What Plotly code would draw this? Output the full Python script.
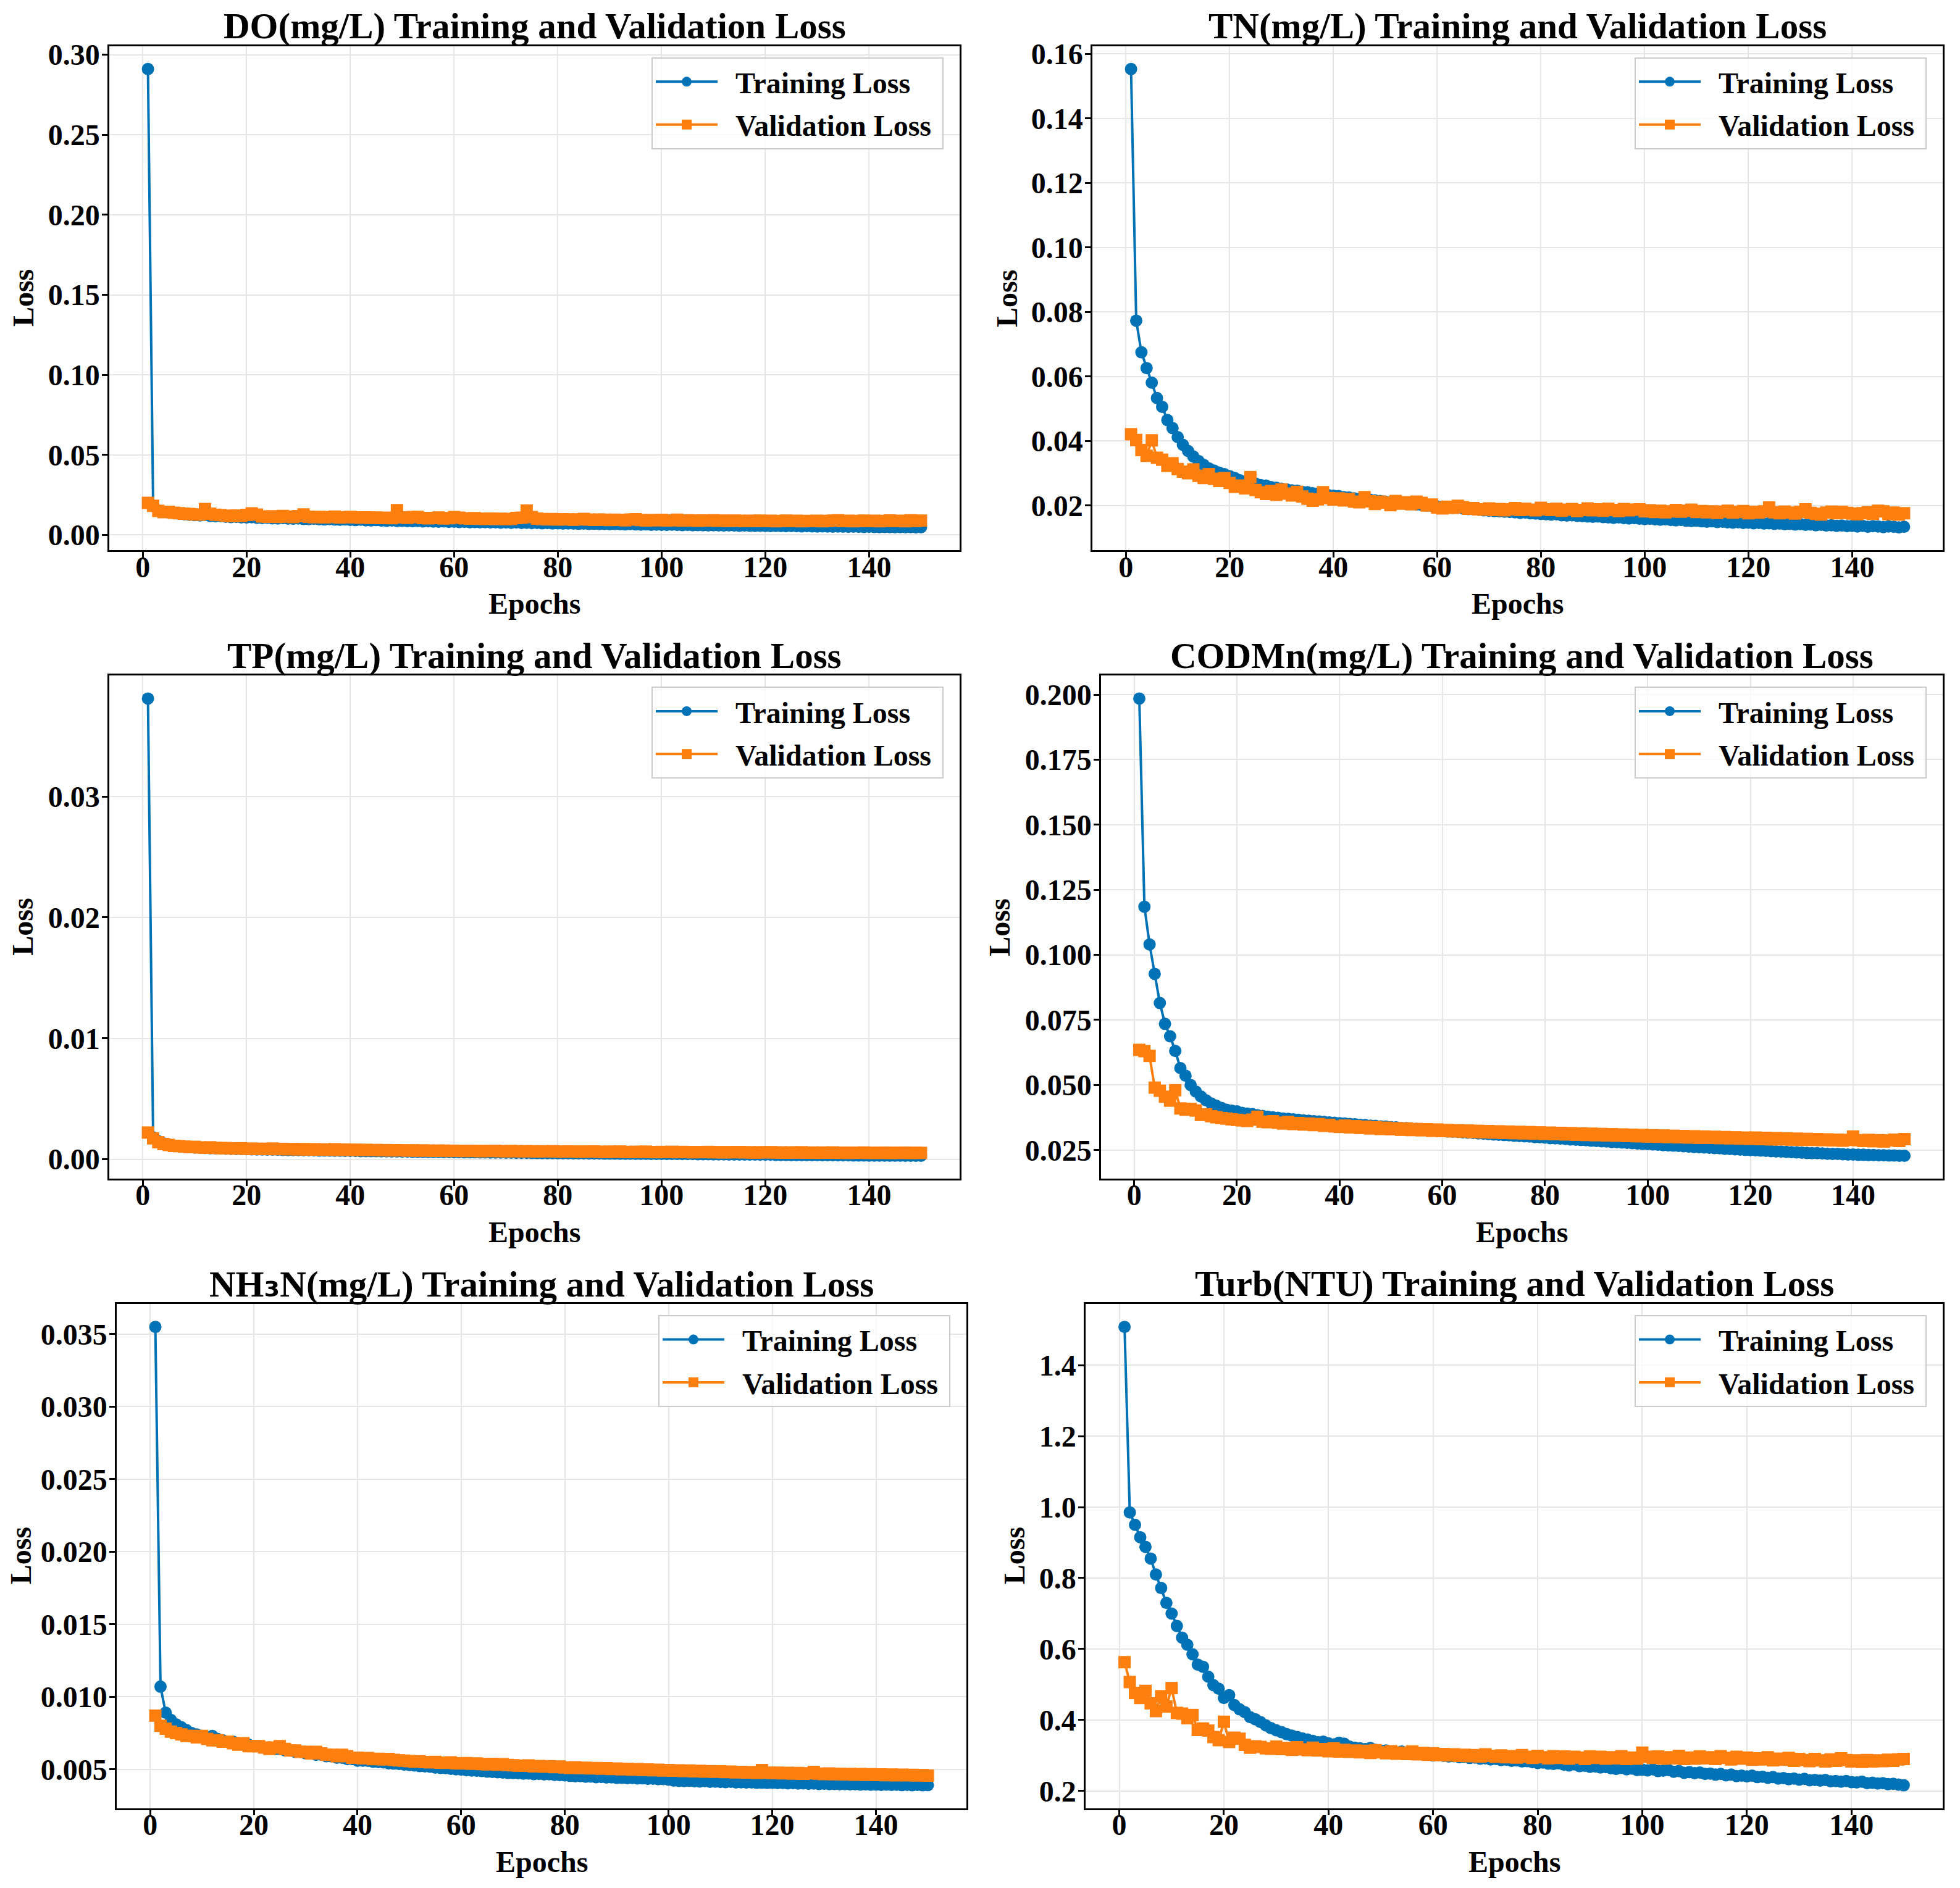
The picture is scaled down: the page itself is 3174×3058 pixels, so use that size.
import plotly.graph_objects as go

epochs = list(range(1, 151))

do_train = [
    0.2910, 0.0180, 0.0152, 0.0146, 0.0141, 0.0137, 0.0132, 0.0129, 0.0126, 0.0124,
    0.0122, 0.0125, 0.0119, 0.0117, 0.0118, 0.0114, 0.0112, 0.0113, 0.0110, 0.0109,
    0.0111, 0.0107, 0.0106, 0.0108, 0.0104, 0.0103, 0.0105, 0.0102, 0.0101, 0.0103,
    0.0100, 0.0099, 0.0101, 0.0098, 0.0097, 0.0099, 0.0096, 0.0095, 0.0097, 0.0094,
    0.0093, 0.0095, 0.0092, 0.0091, 0.0093, 0.0090, 0.0089, 0.0091, 0.0088, 0.0089,
    0.0087, 0.0086, 0.0088, 0.0085, 0.0086, 0.0084, 0.0083, 0.0085, 0.0082, 0.0083,
    0.0081, 0.0082, 0.0080, 0.0081, 0.0079, 0.0080, 0.0078, 0.0079, 0.0077, 0.0078,
    0.0076, 0.0078, 0.0075, 0.0076, 0.0074, 0.0075, 0.0073, 0.0074, 0.0072, 0.0073,
    0.0071, 0.0072, 0.0071, 0.0070, 0.0071, 0.0069, 0.0070, 0.0068, 0.0069, 0.0067,
    0.0068, 0.0067, 0.0066, 0.0068, 0.0066, 0.0065, 0.0066, 0.0064, 0.0065, 0.0064,
    0.0063, 0.0065, 0.0063, 0.0062, 0.0063, 0.0061, 0.0062, 0.0061, 0.0060, 0.0061,
    0.0060, 0.0059, 0.0060, 0.0059, 0.0058, 0.0059, 0.0058, 0.0057, 0.0058, 0.0057,
    0.0056, 0.0057, 0.0056, 0.0055, 0.0056, 0.0055, 0.0054, 0.0055, 0.0054, 0.0053,
    0.0054, 0.0053, 0.0052, 0.0053, 0.0052, 0.0051, 0.0052, 0.0051, 0.0050, 0.0051,
    0.0050, 0.0049, 0.0050, 0.0049, 0.0048, 0.0049, 0.0048, 0.0049, 0.0047, 0.0048,
]
do_val = [
    0.0200, 0.0182, 0.0150, 0.0143, 0.0145, 0.0139, 0.0136, 0.0133, 0.0131, 0.0128,
    0.0127, 0.0162, 0.0133, 0.0126, 0.0124, 0.0120, 0.0118, 0.0121, 0.0119, 0.0125,
    0.0135, 0.0127, 0.0116, 0.0114, 0.0117, 0.0113, 0.0119, 0.0115, 0.0112, 0.0118,
    0.0128, 0.0114, 0.0111, 0.0113, 0.0110, 0.0112, 0.0115, 0.0109, 0.0111, 0.0113,
    0.0110, 0.0108, 0.0110, 0.0107, 0.0109, 0.0106, 0.0108, 0.0105, 0.0155, 0.0110,
    0.0107, 0.0112, 0.0113, 0.0106, 0.0104, 0.0106, 0.0109, 0.0103, 0.0105, 0.0112,
    0.0108, 0.0104, 0.0102, 0.0105, 0.0101, 0.0100, 0.0102, 0.0099, 0.0101, 0.0098,
    0.0100, 0.0106, 0.0108, 0.0152, 0.0112, 0.0102, 0.0099, 0.0097, 0.0099, 0.0096,
    0.0098, 0.0097, 0.0095, 0.0097, 0.0100, 0.0096, 0.0094, 0.0096, 0.0095, 0.0093,
    0.0095, 0.0094, 0.0092, 0.0096, 0.0098, 0.0093, 0.0091, 0.0093, 0.0092, 0.0094,
    0.0091, 0.0092, 0.0095, 0.0090, 0.0092, 0.0091, 0.0089, 0.0091, 0.0090, 0.0092,
    0.0089, 0.0090, 0.0088, 0.0090, 0.0089, 0.0087, 0.0089, 0.0088, 0.0090, 0.0087,
    0.0089, 0.0086, 0.0088, 0.0090, 0.0087, 0.0089, 0.0086, 0.0088, 0.0087, 0.0089,
    0.0086, 0.0088, 0.0090, 0.0092, 0.0087, 0.0089, 0.0086, 0.0088, 0.0090, 0.0087,
    0.0089, 0.0086, 0.0088, 0.0091, 0.0087, 0.0089, 0.0086, 0.0092, 0.0088, 0.0090,
]

tn_train = [
    0.1553, 0.0773, 0.0675, 0.0626, 0.0581, 0.0533, 0.0506, 0.0465, 0.0440, 0.0412,
    0.0388, 0.0369, 0.0352, 0.0338, 0.0326, 0.0315, 0.0308, 0.0302, 0.0297, 0.0291,
    0.0285, 0.0278, 0.0274, 0.0272, 0.0268, 0.0263, 0.0262, 0.0257, 0.0255, 0.0252,
    0.0250, 0.0247, 0.0246, 0.0242, 0.0241, 0.0238, 0.0237, 0.0233, 0.0232, 0.0230,
    0.0229, 0.0226, 0.0225, 0.0222, 0.0221, 0.0219, 0.0218, 0.0216, 0.0214, 0.0212,
    0.0211, 0.0209, 0.0208, 0.0206, 0.0205, 0.0203, 0.0202, 0.0200, 0.0199, 0.0197,
    0.0196, 0.0195, 0.0193, 0.0194, 0.0191, 0.0189, 0.0188, 0.0187, 0.0185, 0.0184,
    0.0183, 0.0182, 0.0181, 0.0180, 0.0179, 0.0177, 0.0178, 0.0176, 0.0175, 0.0174,
    0.0173, 0.0172, 0.0173, 0.0170, 0.0169, 0.0170, 0.0168, 0.0167, 0.0166, 0.0165,
    0.0166, 0.0164, 0.0163, 0.0162, 0.0163, 0.0161, 0.0160, 0.0161, 0.0159, 0.0158,
    0.0159, 0.0157, 0.0156, 0.0157, 0.0155, 0.0154, 0.0155, 0.0153, 0.0152, 0.0153,
    0.0151, 0.0150, 0.0151, 0.0149, 0.0150, 0.0148, 0.0147, 0.0148, 0.0146, 0.0147,
    0.0145, 0.0146, 0.0144, 0.0145, 0.0143, 0.0144, 0.0142, 0.0143, 0.0141, 0.0142,
    0.0140, 0.0141, 0.0139, 0.0140, 0.0138, 0.0139, 0.0137, 0.0138, 0.0136, 0.0137,
    0.0135, 0.0137, 0.0134, 0.0136, 0.0135, 0.0133, 0.0135, 0.0134, 0.0132, 0.0134,
]
tn_val = [
    0.0421, 0.0403, 0.0372, 0.0354, 0.0402, 0.0348, 0.0342, 0.0323, 0.0331, 0.0313,
    0.0305, 0.0300, 0.0312, 0.0292, 0.0285, 0.0297, 0.0283, 0.0276, 0.0285, 0.0270,
    0.0258, 0.0262, 0.0253, 0.0288, 0.0248, 0.0241, 0.0236, 0.0245, 0.0233, 0.0250,
    0.0237, 0.0231, 0.0242, 0.0228, 0.0221, 0.0215, 0.0219, 0.0241, 0.0223, 0.0218,
    0.0222, 0.0216, 0.0220, 0.0212, 0.0210, 0.0226, 0.0213, 0.0205, 0.0212, 0.0209,
    0.0201, 0.0214, 0.0206, 0.0210, 0.0204, 0.0212, 0.0208, 0.0200, 0.0203, 0.0194,
    0.0191, 0.0196, 0.0193, 0.0199, 0.0195, 0.0190, 0.0192, 0.0188, 0.0187, 0.0191,
    0.0186, 0.0189, 0.0185, 0.0188, 0.0192, 0.0186, 0.0190, 0.0187, 0.0185, 0.0193,
    0.0188, 0.0186, 0.0190, 0.0184, 0.0187, 0.0189, 0.0183, 0.0186, 0.0191, 0.0185,
    0.0188, 0.0184, 0.0190, 0.0186, 0.0183, 0.0189, 0.0185, 0.0187, 0.0188, 0.0182,
    0.0185, 0.0180, 0.0184, 0.0179, 0.0182, 0.0186, 0.0181, 0.0184, 0.0187, 0.0180,
    0.0183, 0.0179, 0.0182, 0.0177, 0.0181, 0.0184, 0.0178, 0.0180, 0.0183, 0.0176,
    0.0180, 0.0178, 0.0182, 0.0194, 0.0179, 0.0176, 0.0181, 0.0178, 0.0175, 0.0180,
    0.0188, 0.0177, 0.0174, 0.0172, 0.0178, 0.0181, 0.0176, 0.0180, 0.0177, 0.0175,
    0.0173, 0.0176, 0.0179, 0.0174, 0.0184, 0.0182, 0.0173, 0.0178, 0.0172, 0.0176,
]

tp_train = [
    0.03810, 0.00180, 0.00148, 0.00130, 0.00120, 0.00113, 0.00108, 0.00103, 0.00100, 0.00097,
    0.00095, 0.00093, 0.00091, 0.00090, 0.00088, 0.00087, 0.00086, 0.00085, 0.00084, 0.00083,
    0.00082, 0.00081, 0.00080, 0.00079, 0.00079, 0.00078, 0.00077, 0.00076, 0.00076, 0.00075,
    0.00074, 0.00074, 0.00073, 0.00072, 0.00072, 0.00071, 0.00070, 0.00070, 0.00069, 0.00069,
    0.00068, 0.00067, 0.00067, 0.00066, 0.00066, 0.00065, 0.00065, 0.00064, 0.00064, 0.00063,
    0.00063, 0.00062, 0.00062, 0.00061, 0.00061, 0.00060, 0.00060, 0.00059, 0.00059, 0.00058,
    0.00058, 0.00057, 0.00057, 0.00057, 0.00056, 0.00056, 0.00055, 0.00055, 0.00055, 0.00054,
    0.00054, 0.00053, 0.00053, 0.00053, 0.00052, 0.00052, 0.00051, 0.00051, 0.00051, 0.00050,
    0.00050, 0.00050, 0.00049, 0.00049, 0.00049, 0.00048, 0.00048, 0.00048, 0.00047, 0.00047,
    0.00047, 0.00046, 0.00046, 0.00046, 0.00045, 0.00045, 0.00045, 0.00044, 0.00044, 0.00044,
    0.00043, 0.00043, 0.00043, 0.00042, 0.00042, 0.00042, 0.00041, 0.00041, 0.00041, 0.00040,
    0.00040, 0.00040, 0.00039, 0.00039, 0.00039, 0.00038, 0.00038, 0.00038, 0.00037, 0.00037,
    0.00037, 0.00036, 0.00036, 0.00036, 0.00035, 0.00035, 0.00035, 0.00034, 0.00034, 0.00034,
    0.00033, 0.00033, 0.00033, 0.00032, 0.00032, 0.00032, 0.00031, 0.00031, 0.00031, 0.00030,
    0.00030, 0.00030, 0.00030, 0.00029, 0.00029, 0.00029, 0.00028, 0.00028, 0.00028, 0.00028,
]
tp_val = [
    0.00220, 0.00172, 0.00140, 0.00125, 0.00118, 0.00110, 0.00108, 0.00104, 0.00100, 0.00102,
    0.00097, 0.00095, 0.00098, 0.00093, 0.00091, 0.00092, 0.00089, 0.00088, 0.00090, 0.00086,
    0.00087, 0.00085, 0.00086, 0.00084, 0.00088, 0.00083, 0.00085, 0.00082, 0.00084, 0.00081,
    0.00083, 0.00080, 0.00082, 0.00079, 0.00081, 0.00078, 0.00082, 0.00077, 0.00079, 0.00076,
    0.00078, 0.00075, 0.00077, 0.00074, 0.00076, 0.00073, 0.00075, 0.00072, 0.00074, 0.00073,
    0.00071, 0.00073, 0.00070, 0.00072, 0.00071, 0.00069, 0.00071, 0.00070, 0.00068, 0.00070,
    0.00069, 0.00067, 0.00069, 0.00068, 0.00066, 0.00068, 0.00067, 0.00069, 0.00066, 0.00065,
    0.00067, 0.00066, 0.00064, 0.00066, 0.00065, 0.00063, 0.00065, 0.00064, 0.00066, 0.00063,
    0.00062, 0.00064, 0.00063, 0.00061, 0.00063, 0.00062, 0.00064, 0.00061, 0.00060, 0.00062,
    0.00061, 0.00063, 0.00060, 0.00059, 0.00061, 0.00060, 0.00062, 0.00059, 0.00058, 0.00060,
    0.00059, 0.00061, 0.00058, 0.00060, 0.00059, 0.00057, 0.00059, 0.00058, 0.00060, 0.00057,
    0.00058, 0.00056, 0.00058, 0.00057, 0.00059, 0.00056, 0.00057, 0.00055, 0.00057, 0.00056,
    0.00058, 0.00055, 0.00056, 0.00054, 0.00056, 0.00055, 0.00057, 0.00054, 0.00055, 0.00053,
    0.00055, 0.00054, 0.00056, 0.00053, 0.00054, 0.00052, 0.00054, 0.00053, 0.00055, 0.00052,
    0.00053, 0.00052, 0.00054, 0.00051, 0.00053, 0.00052, 0.00054, 0.00051, 0.00053, 0.00052,
]

cod_train = [
    0.1985, 0.1185, 0.1040, 0.0927, 0.0815, 0.0735, 0.0687, 0.0631, 0.0565, 0.0536,
    0.0500, 0.0475, 0.0456, 0.0441, 0.0429, 0.0420, 0.0412, 0.0405, 0.0401, 0.0399,
    0.0393, 0.0390, 0.0388, 0.0384, 0.0381, 0.0378, 0.0376, 0.0374, 0.0371, 0.0370,
    0.0368, 0.0366, 0.0364, 0.0363, 0.0361, 0.0360, 0.0358, 0.0356, 0.0355, 0.0353,
    0.0352, 0.0350, 0.0349, 0.0347, 0.0346, 0.0344, 0.0343, 0.0341, 0.0340, 0.0338,
    0.0337, 0.0335, 0.0334, 0.0332, 0.0331, 0.0330, 0.0328, 0.0327, 0.0325, 0.0324,
    0.0322, 0.0321, 0.0320, 0.0318, 0.0317, 0.0316, 0.0314, 0.0313, 0.0312, 0.0310,
    0.0309, 0.0308, 0.0307, 0.0305, 0.0304, 0.0303, 0.0302, 0.0300, 0.0299, 0.0298,
    0.0296, 0.0295, 0.0294, 0.0293, 0.0291, 0.0290, 0.0289, 0.0288, 0.0286, 0.0285,
    0.0284, 0.0283, 0.0281, 0.0280, 0.0279, 0.0278, 0.0277, 0.0275, 0.0274, 0.0273,
    0.0272, 0.0271, 0.0269, 0.0268, 0.0267, 0.0266, 0.0265, 0.0263, 0.0262, 0.0261,
    0.0260, 0.0259, 0.0258, 0.0257, 0.0255, 0.0254, 0.0253, 0.0252, 0.0251, 0.0250,
    0.0249, 0.0248, 0.0247, 0.0246, 0.0245, 0.0244, 0.0243, 0.0242, 0.0241, 0.0240,
    0.0239, 0.0238, 0.0238, 0.0237, 0.0236, 0.0235, 0.0235, 0.0234, 0.0233, 0.0233,
    0.0232, 0.0232, 0.0231, 0.0231, 0.0230, 0.0230, 0.0229, 0.0229, 0.0228, 0.0228,
]
cod_val = [
    0.0635, 0.0630, 0.0612, 0.0490, 0.0478, 0.0455, 0.0440, 0.0480, 0.0410, 0.0405,
    0.0408, 0.0402, 0.0385, 0.0387, 0.0380, 0.0376, 0.0373, 0.0371, 0.0368, 0.0366,
    0.0364, 0.0362, 0.0367, 0.0378, 0.0359, 0.0357, 0.0361, 0.0355, 0.0352, 0.0358,
    0.0350, 0.0354, 0.0348, 0.0352, 0.0346, 0.0350, 0.0343, 0.0347, 0.0341, 0.0339,
    0.0344, 0.0337, 0.0342, 0.0335, 0.0340, 0.0333, 0.0338, 0.0331, 0.0336, 0.0330,
    0.0334, 0.0328, 0.0333, 0.0327, 0.0331, 0.0326, 0.0330, 0.0324, 0.0329, 0.0323,
    0.0327, 0.0322, 0.0326, 0.0321, 0.0325, 0.0319, 0.0324, 0.0318, 0.0323, 0.0317,
    0.0322, 0.0316, 0.0321, 0.0315, 0.0320, 0.0314, 0.0319, 0.0313, 0.0318, 0.0312,
    0.0317, 0.0311, 0.0316, 0.0310, 0.0315, 0.0309, 0.0314, 0.0308, 0.0313, 0.0307,
    0.0312, 0.0306, 0.0311, 0.0305, 0.0310, 0.0304, 0.0309, 0.0303, 0.0308, 0.0302,
    0.0307, 0.0301, 0.0306, 0.0300, 0.0305, 0.0299, 0.0304, 0.0298, 0.0303, 0.0297,
    0.0302, 0.0297, 0.0301, 0.0296, 0.0300, 0.0295, 0.0299, 0.0294, 0.0298, 0.0293,
    0.0298, 0.0292, 0.0297, 0.0291, 0.0296, 0.0291, 0.0295, 0.0290, 0.0294, 0.0289,
    0.0293, 0.0289, 0.0292, 0.0288, 0.0291, 0.0287, 0.0290, 0.0286, 0.0289, 0.0302,
    0.0288, 0.0285, 0.0289, 0.0284, 0.0288, 0.0283, 0.0287, 0.0290, 0.0285, 0.0292,
]

nh3n_train = [
    0.03550, 0.01070, 0.00890, 0.00840, 0.00810, 0.00790, 0.00770, 0.00750, 0.00740, 0.00730,
    0.00720, 0.00730, 0.00710, 0.00700, 0.00690, 0.00690, 0.00680, 0.00670, 0.00670, 0.00660,
    0.00660, 0.00650, 0.00650, 0.00640, 0.00640, 0.00630, 0.00630, 0.00620, 0.00620, 0.00610,
    0.00610, 0.00600, 0.00600, 0.00590, 0.00590, 0.00580, 0.00580, 0.00570, 0.00570, 0.00560,
    0.00560, 0.00558, 0.00552, 0.00550, 0.00548, 0.00542, 0.00540, 0.00537, 0.00532, 0.00530,
    0.00527, 0.00522, 0.00520, 0.00518, 0.00512, 0.00510, 0.00508, 0.00503, 0.00500, 0.00498,
    0.00494, 0.00492, 0.00490, 0.00488, 0.00484, 0.00482, 0.00480, 0.00478, 0.00475, 0.00474,
    0.00473, 0.00470, 0.00471, 0.00467, 0.00468, 0.00465, 0.00466, 0.00462, 0.00460, 0.00458,
    0.00455, 0.00452, 0.00453, 0.00449, 0.00450, 0.00446, 0.00447, 0.00444, 0.00445, 0.00441,
    0.00442, 0.00439, 0.00440, 0.00437, 0.00438, 0.00434, 0.00435, 0.00432, 0.00433, 0.00429,
    0.00422, 0.00420, 0.00419, 0.00421, 0.00417, 0.00416, 0.00418, 0.00414, 0.00415, 0.00413,
    0.00412, 0.00414, 0.00410, 0.00411, 0.00409, 0.00410, 0.00407, 0.00408, 0.00406, 0.00407,
    0.00405, 0.00406, 0.00403, 0.00404, 0.00402, 0.00403, 0.00400, 0.00402, 0.00399, 0.00400,
    0.00398, 0.00399, 0.00397, 0.00398, 0.00396, 0.00397, 0.00395, 0.00396, 0.00394, 0.00395,
    0.00393, 0.00395, 0.00392, 0.00394, 0.00391, 0.00393, 0.00390, 0.00392, 0.00390, 0.00391,
]
nh3n_val = [
    0.00870, 0.00800, 0.00780, 0.00760, 0.00750, 0.00740, 0.00730, 0.00730, 0.00720, 0.00730,
    0.00710, 0.00700, 0.00700, 0.00690, 0.00690, 0.00680, 0.00670, 0.00680, 0.00660, 0.00660,
    0.00660, 0.00650, 0.00640, 0.00650, 0.00660, 0.00640, 0.00630, 0.00630, 0.00620, 0.00620,
    0.00610, 0.00620, 0.00610, 0.00600, 0.00600, 0.00590, 0.00600, 0.00590, 0.00580, 0.00580,
    0.00575, 0.00578, 0.00570, 0.00572, 0.00568, 0.00571, 0.00565, 0.00562, 0.00560, 0.00556,
    0.00552, 0.00555, 0.00550, 0.00548, 0.00551, 0.00546, 0.00545, 0.00548, 0.00542, 0.00540,
    0.00543, 0.00538, 0.00540, 0.00536, 0.00534, 0.00537, 0.00532, 0.00535, 0.00530, 0.00528,
    0.00526, 0.00524, 0.00527, 0.00520, 0.00522, 0.00518, 0.00521, 0.00515, 0.00519, 0.00513,
    0.00510, 0.00514, 0.00508, 0.00511, 0.00506, 0.00509, 0.00504, 0.00507, 0.00502, 0.00505,
    0.00500, 0.00503, 0.00498, 0.00501, 0.00496, 0.00499, 0.00494, 0.00497, 0.00492, 0.00495,
    0.00490, 0.00493, 0.00488, 0.00491, 0.00486, 0.00489, 0.00484, 0.00487, 0.00483, 0.00486,
    0.00481, 0.00484, 0.00479, 0.00482, 0.00478, 0.00481, 0.00476, 0.00495, 0.00477, 0.00474,
    0.00477, 0.00472, 0.00475, 0.00470, 0.00474, 0.00469, 0.00472, 0.00482, 0.00470, 0.00467,
    0.00471, 0.00466, 0.00469, 0.00465, 0.00468, 0.00463, 0.00467, 0.00462, 0.00466, 0.00461,
    0.00465, 0.00460, 0.00464, 0.00459, 0.00463, 0.00458, 0.00462, 0.00457, 0.00461, 0.00456,
]

turb_train = [
    1.508, 0.985, 0.950, 0.915, 0.888, 0.855, 0.810, 0.772, 0.730, 0.700,
    0.665, 0.632, 0.612, 0.585, 0.556, 0.550, 0.522, 0.498, 0.488, 0.462,
    0.470, 0.442, 0.430, 0.422, 0.408, 0.402, 0.394, 0.385, 0.377, 0.371,
    0.366, 0.360, 0.356, 0.352, 0.348, 0.345, 0.341, 0.337, 0.339, 0.334,
    0.331, 0.336, 0.333, 0.325, 0.322, 0.320, 0.318, 0.321, 0.316, 0.313,
    0.314, 0.311, 0.309, 0.311, 0.307, 0.305, 0.306, 0.303, 0.302, 0.300,
    0.301, 0.299, 0.297, 0.298, 0.295, 0.296, 0.293, 0.294, 0.291, 0.292,
    0.289, 0.290, 0.287, 0.288, 0.285, 0.286, 0.283, 0.284, 0.281, 0.279,
    0.280, 0.277, 0.276, 0.278, 0.274, 0.272, 0.275, 0.270, 0.271, 0.268,
    0.269, 0.266, 0.267, 0.264, 0.262, 0.265, 0.261, 0.263, 0.259, 0.260,
    0.258, 0.261, 0.256, 0.257, 0.259, 0.254, 0.256, 0.251, 0.253, 0.250,
    0.252, 0.248, 0.249, 0.246, 0.248, 0.244, 0.246, 0.242, 0.243, 0.241,
    0.243, 0.239, 0.240, 0.237, 0.239, 0.235, 0.236, 0.233, 0.235, 0.232,
    0.234, 0.230, 0.231, 0.229, 0.231, 0.227, 0.228, 0.226, 0.228, 0.225,
    0.224, 0.226, 0.222, 0.223, 0.221, 0.222, 0.219, 0.220, 0.218, 0.216,
]
turb_val = [
    0.563, 0.507, 0.476, 0.462, 0.482, 0.447, 0.425, 0.467, 0.438, 0.490,
    0.420, 0.418, 0.405, 0.414, 0.372, 0.376, 0.370, 0.352, 0.343, 0.395,
    0.338, 0.350, 0.347, 0.330, 0.322, 0.326, 0.324, 0.320, 0.319, 0.325,
    0.318, 0.321, 0.316, 0.323, 0.317, 0.315, 0.322, 0.314, 0.318, 0.312,
    0.320, 0.311, 0.316, 0.310, 0.314, 0.309, 0.313, 0.307, 0.315, 0.309,
    0.306, 0.312, 0.305, 0.308, 0.304, 0.311, 0.303, 0.307, 0.302, 0.306,
    0.301, 0.304, 0.300, 0.303, 0.299, 0.302, 0.298, 0.301, 0.297, 0.303,
    0.299, 0.296, 0.300, 0.295, 0.298, 0.294, 0.301, 0.296, 0.293, 0.299,
    0.295, 0.292, 0.298, 0.293, 0.297, 0.291, 0.296, 0.294, 0.290, 0.297,
    0.293, 0.296, 0.291, 0.295, 0.292, 0.298, 0.290, 0.294, 0.291, 0.308,
    0.296, 0.293, 0.297, 0.291, 0.295, 0.292, 0.299, 0.290, 0.294, 0.291,
    0.297, 0.292, 0.295, 0.290, 0.298, 0.293, 0.289, 0.296, 0.291, 0.294,
    0.288, 0.292, 0.289, 0.295, 0.286, 0.291, 0.288, 0.293, 0.285, 0.290,
    0.287, 0.284, 0.290, 0.286, 0.283, 0.289, 0.285, 0.292, 0.287, 0.283,
    0.286, 0.282, 0.287, 0.283, 0.286, 0.284, 0.288, 0.285, 0.289, 0.290,
]

# (title, train, val, y tick step, tick format)
panels = [
    ("DO(mg/L)", do_train, do_val, 0.05, ".2f"),
    ("TN(mg/L)", tn_train, tn_val, 0.02, ".2f"),
    ("TP(mg/L)", tp_train, tp_val, 0.01, ".2f"),
    ("CODMn(mg/L)", cod_train, cod_val, 0.025, ".3f"),
    ('NH<span style="font-family:DejaVu Sans">₃</span>N(mg/L)', nh3n_train, nh3n_val, 0.005, ".3f"),
    ("Turb(NTU)", turb_train, turb_val, 0.2, ".1f"),
]

W, H = 3174, 3058
OFF_X, OFF_Y = 8, 12  # page offset of the plot div
# axes boxes in page pixels: left, right, top, bottom
boxes = [
    (177, 1554, 65, 886),
    (1769, 3146, 65, 886),
    (177, 1554, 1090, 1909),
    (1783, 3146, 1090, 1909),
    (189, 1565, 2113, 2934),
    (1758, 3146, 2113, 2934),
]
loss_x = [37, 1630, 37, 1619, 33, 1642]

BLUE = "#0072B5"
ORANGE = "#FF7F0E"
FONT = "Liberation Serif"
NB = "\u00a0"


def px(v):
    return (v - OFF_X) / W


def py(v):
    return 1 - (v - OFF_Y) / H


fig = go.Figure()
annotations = []
layout = {}

for i, (name, train, val, step, fmt) in enumerate(panels):
    n = i + 1
    sfx = "" if n == 1 else str(n)
    left, right, top, bottom = boxes[i]
    leg = "legend" if n == 1 else f"legend{n}"

    fig.add_trace(go.Scatter(
        x=epochs, y=train, name=NB * 2 + "Training Loss", mode="lines+markers",
        line=dict(color=BLUE, width=4), marker=dict(symbol="circle", size=20, color=BLUE),
        xaxis=f"x{sfx}", yaxis=f"y{sfx}", legend=leg, legendgroup="train",
    ))
    fig.add_trace(go.Scatter(
        x=epochs, y=val, name=NB * 2 + "Validation Loss" + NB, mode="lines+markers",
        line=dict(color=ORANGE, width=4), marker=dict(symbol="square", size=20, color=ORANGE),
        xaxis=f"x{sfx}", yaxis=f"y{sfx}", legend=leg, legendgroup="val",
    ))

    lo = min(min(train), min(val))
    hi = max(max(train), max(val))
    pad = (hi - lo) * 0.05

    axis_common = dict(
        showline=True, linecolor="black", linewidth=2.5, mirror=True,
        ticks="outside", ticklen=9, tickwidth=2.5, tickcolor="black",
        showgrid=True, gridcolor="#e6e6e6", gridwidth=2, zeroline=False,
        tickfont=dict(family=FONT, size=48, color="black", weight="bold"),
    )
    layout[f"xaxis{sfx}"] = dict(
        axis_common, domain=[px(left), px(right)], anchor=f"y{sfx}",
        range=[1 - 149 * 0.05, 150 + 149 * 0.05], tick0=0, dtick=20,
        ticklabelstandoff=-26,
    )
    layout[f"yaxis{sfx}"] = dict(
        axis_common, domain=[py(bottom), py(top)], anchor=f"x{sfx}",
        range=[lo - pad, hi + pad], tick0=0, dtick=step, tickformat=fmt,
        ticklabelstandoff=-6,
    )
    layout[leg] = dict(
        x=px(right - 26), y=py(top + 18), xanchor="right", yanchor="top",
        bgcolor="rgba(255,255,255,0.8)", bordercolor="#cccccc", borderwidth=2,
        itemwidth=100, tracegroupgap=4,
        font=dict(family=FONT, size=48, color="black", weight="bold"),
    )

    cx = px((left + right) / 2)
    annotations.append(dict(
        text=f"{name} Training and Validation Loss", x=cx, y=py(top - 33),
        xref="paper", yref="paper", showarrow=False, xanchor="center", yanchor="middle",
        font=dict(family=FONT, size=59, color="black", weight="bold"),
    ))
    annotations.append(dict(
        text="Epochs", x=cx, y=py(bottom + 87),
        xref="paper", yref="paper", showarrow=False, xanchor="center", yanchor="middle",
        font=dict(family=FONT, size=48, color="black", weight="bold"),
    ))
    annotations.append(dict(
        text="Loss", x=px(loss_x[i]), y=py((top + bottom) / 2), textangle=-90,
        xref="paper", yref="paper", showarrow=False, xanchor="center", yanchor="middle",
        font=dict(family=FONT, size=48, color="black", weight="bold"),
    ))

fig.update_layout(
    width=W, height=H, margin=dict(l=0, r=0, t=0, b=0),
    paper_bgcolor="white", plot_bgcolor="white",
    font=dict(family=FONT, size=48, color="black", weight="bold"),
    annotations=annotations, **layout,
)

fig.write_html("out.html")
